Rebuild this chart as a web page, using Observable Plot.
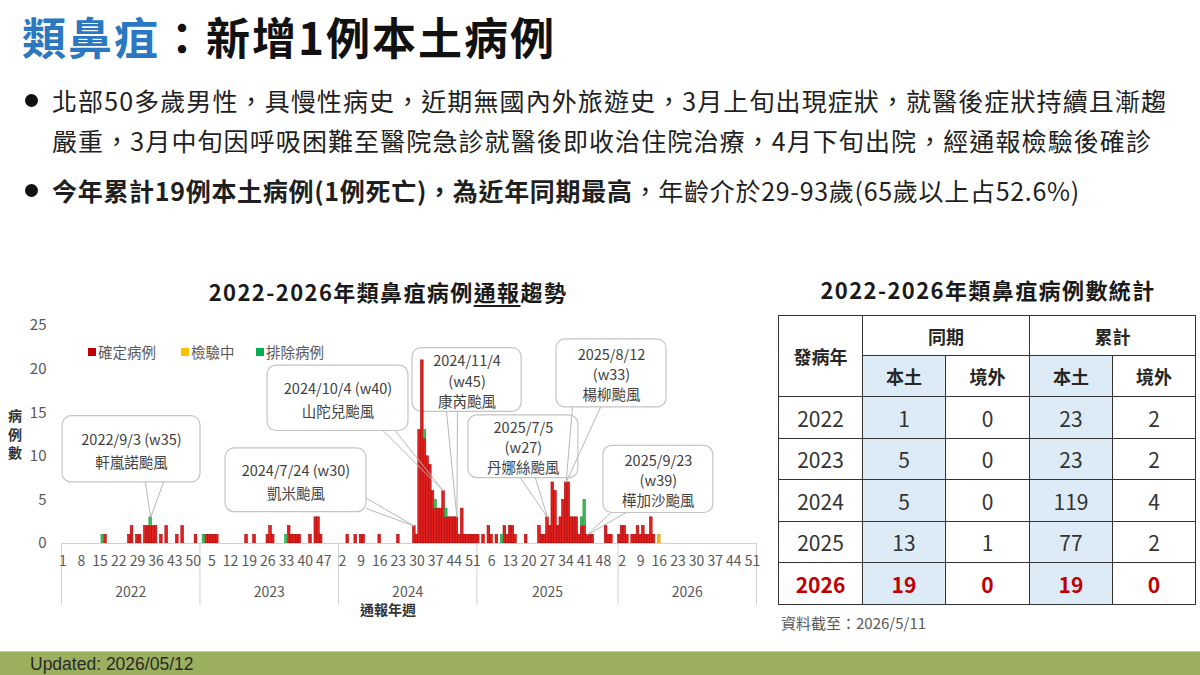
<!DOCTYPE html>
<html lang="zh-Hant">
<head>
<meta charset="utf-8">
<script src="https://cdn.jsdelivr.net/npm/d3@7"></script>
<script src="https://cdn.jsdelivr.net/npm/@observablehq/plot@0.6"></script>
<style>
  html, body { margin:0; padding:0; background:#fff; }
  body { width:1200px; height:675px; overflow:hidden; position:relative;
         font-family:"Noto Sans CJK TC","Noto Sans",sans-serif; color:#1f1f1f; }
  .abs { position:absolute; white-space:nowrap; }
  #title { left:22px; top:6px; font-size:44px; line-height:60px; font-weight:700; letter-spacing:2px; color:#111; }
  #title .blue { color:#2B78C2; }
  .bl { left:52px; font-size:25px; line-height:30px; letter-spacing:1.1px; color:#1f1f1f; }
  .dot { width:13px; height:13px; border-radius:50%; background:#111; left:25px; }
  .ctitle { font-size:22px; font-weight:700; letter-spacing:1.4px; line-height:30px; text-align:center; color:#1a1a1a; }
  .ctitle u { text-decoration-thickness:1.5px; text-underline-offset:4px; }
  #chart { left:0; top:305px; }
  .lg { font-size:14.5px; line-height:20px; color:#595959; top:342px; }
  .sw { width:8px; height:8px; top:348px; }
  #ytitle { left:5px; top:409px; writing-mode:vertical-rl; text-orientation:upright; font-size:14px; font-weight:700; letter-spacing:4.5px; color:#333; }
  #xtitle { left:0; width:776px; top:600px; text-align:center; font-size:14px; font-weight:700; line-height:18px; color:#333; }
  #tbl { left:778px; top:315px; border-collapse:collapse; table-layout:fixed; }
  #tbl td { border:1.6px solid #333; text-align:center; vertical-align:middle; padding:0; font-size:21px; color:#333; }
  #tbl td.h { font-size:18px; font-weight:700; color:#262626; }
  #tbl td.b { background:#DDEBF7; }
  #tbl tr.cur td { color:#C00000; font-weight:700; }
  #note { left:781px; top:612px; font-size:15px; line-height:22px; color:#595959; }
  #footer { left:0; top:651px; width:1200px; height:24px; background:#9BAF5F; border-top:1px solid #C3CF98; }
  #footer span { position:absolute; left:30px; top:2px; font-family:"Liberation Sans",sans-serif; font-size:17.5px; line-height:20px; color:#2a2a2a; }
</style>
</head>
<body>
<div id="title" class="abs"><span class="blue">類鼻疽</span>：新增1例本土病例</div>

<div class="abs dot" style="top:94px"></div>
<div class="abs bl" style="top:85px">北部50多歲男性，具慢性病史，近期無國內外旅遊史，3月上旬出現症狀，就醫後症狀持續且漸趨</div>
<div class="abs bl" style="top:125px">嚴重，3月中旬因呼吸困難至醫院急診就醫後即收治住院治療，4月下旬出院，經通報檢驗後確診</div>
<div class="abs dot" style="top:184px"></div>
<div class="abs bl" style="top:175px;letter-spacing:0.7px"><b>今年累計19例本土病例(1例死亡)，為近年同期最高</b>，年齡介於29-93歲(65歲以上占52.6%)</div>

<div class="abs ctitle" style="left:0;width:776px;top:276px">2022-2026年類鼻疽病例<u>通報</u>趨勢</div>
<div class="abs ctitle" style="left:778px;width:420px;top:274px">2022-2026年類鼻疽病例數統計</div>

<div id="chart" class="abs"></div>

<div class="abs sw" style="left:88px;background:#C00000"></div>
<div class="abs lg" style="left:98px">確定病例</div>
<div class="abs sw" style="left:181px;background:#FFC000"></div>
<div class="abs lg" style="left:191px">檢驗中</div>
<div class="abs sw" style="left:256px;background:#00B050"></div>
<div class="abs lg" style="left:266px">排除病例</div>

<div id="ytitle" class="abs">病例數</div>
<div id="xtitle" class="abs">通報年週</div>

<table id="tbl" class="abs"></table>
<div id="note" class="abs">資料截至：2026/5/11</div>

<div id="footer" class="abs"><span>Updated: 2026/05/12</span></div>

<script>
// ---------------- data ----------------
const years = [2022, 2023, 2024, 2025, 2026];
const weeksPerYear = [52, 52, 52, 53, 52];
const statusNames = ["確定病例", "檢驗中", "排除病例"];

// [week, cases]
const confirmed2022 = [[17,1],[26,1],[27,2],[29,1],[30,1],[32,2],[33,2],[34,2],[35,2],[36,2],[38,1],[40,2],[44,1],[46,2],[51,1]];
const confirmed2023 = [[3,1],[4,1],[5,1],[6,1],[7,1],[18,1],[21,1],[26,1],[27,2],[28,1],[34,2],[35,1],[36,1],[37,1],[38,1],[42,1],[44,3],[45,3],[46,1]];
const confirmed2024 = [[4,1],[7,1],[9,1],[10,1],[16,1],[23,1],[29,2],[30,1],[31,13],[32,21],[33,12],[34,10],[35,9],[36,6],[37,4],[38,4],[39,4],[40,6],[41,3],[42,3],[43,3],[44,3],[45,3],[46,1],[47,4],[48,1],[49,1],[50,1],[51,1],[52,1]];
const confirmed2025 = [[1,1],[3,1],[5,2],[6,1],[8,1],[11,2],[12,1],[13,2],[14,2],[15,1],[19,1],[24,2],[25,1],[26,1],[27,3],[28,2],[29,7],[30,6],[31,2],[32,3],[33,5],[34,7],[35,7],[36,3],[37,3],[38,3],[39,1],[40,2],[41,2],[42,1],[43,1],[44,1],[49,2],[50,1],[51,1]];
const confirmed2026 = [[1,1],[2,2],[3,2],[4,1],[6,1],[7,1],[8,2],[9,1],[10,2],[11,1],[12,1],[13,3],[14,1]];

const testing2022 = [];
const testing2023 = [];
const testing2024 = [];
const testing2025 = [];
const testing2026 = [[16,1]];

const excluded2022 = [[16,1],[34,1]];
const excluded2023 = [[2,1],[33,1]];
const excluded2024 = [[33,1],[37,1],[41,1]];
const excluded2025 = [[10,1],[40,1],[41,3]];
const excluded2026 = [];

const yTicks = [0, 5, 10, 15, 20, 25];
const weekTickStep = 7;

// callouts
const calloutText = [
  ["2022/9/3 (w35)", "軒嵐諾颱風"],
  ["2024/7/24 (w30)", "凱米颱風"],
  ["2024/10/4 (w40)", "山陀兒颱風"],
  ["2024/11/4", "(w45)", "康芮颱風"],
  ["2025/7/5", "(w27)", "丹娜絲颱風"],
  ["2025/8/12", "(w33)", "楊柳颱風"],
  ["2025/9/23", "(w39)", "樺加沙颱風"]
];
const calloutTarget = [[2022,34],[2024,29],[2024,40],[2024,45],[2025,27],[2025,34],[2025,42]];

// table
const tableYears = [2022, 2023, 2024, 2025, 2026];
const samePeriodLocal = [1, 5, 5, 13, 19];
const samePeriodImported = [0, 0, 0, 1, 0];
const cumulativeLocal = [23, 23, 119, 77, 19];
const cumulativeImported = [2, 2, 4, 2, 0];

// ---------------- layout (annotation boxes, in chart units) ----------------
const calloutLayout = [
  {x1:0.4,   x2:52.2,  y1:7.0,  y2:14.6, base:[[31.5,7.0],[38.3,7.0]]},
  {x1:61.6,  x2:114.5, y1:3.6,  y2:10.9, base:[[114.5,5.2],[114.5,4.0]]},
  {x1:77.4,  x2:130.3, y1:12.9, y2:20.4, base:[[120.9,12.9],[125.4,12.9]]},
  {x1:131.8, x2:172.8, y1:15.1, y2:22.4, base:[[144.6,15.1],[148.7,15.1]]},
  {x1:152.8, x2:194.1, y1:7.5,  y2:14.7, base:[[172.4,7.5],[178.0,7.5]]},
  {x1:185.9, x2:227.2, y1:15.6, y2:23.4, base:[[191.9,15.6],[202.4,15.6]]},
  {x1:203.5, x2:244.8, y1:3.5,  y2:11.2, base:[[206.2,3.5],[211.8,3.5]]}
];
const barStyle = {
  "確定病例": {fill:"#E2211F", stroke:"#A60000"},
  "檢驗中":   {fill:"#F7B515", stroke:"#D39200"},
  "排除病例": {fill:"#3DBA5B", stroke:"#22903F"}
};

// ---------------- build ----------------
const yearStart = years.map((_, i) => d3.sum(weeksPerYear.slice(0, i)));
const totalWeeks = d3.sum(weeksPerYear);
const series = {
  "確定病例": [confirmed2022, confirmed2023, confirmed2024, confirmed2025, confirmed2026],
  "檢驗中":   [testing2022, testing2023, testing2024, testing2025, testing2026],
  "排除病例": [excluded2022, excluded2023, excluded2024, excluded2025, excluded2026]
};
const totals = new Map();
const rects = [];
for (const s of statusNames) {
  series[s].forEach((list, i) => {
    for (const [wk, n] of list) {
      const g = yearStart[i] + wk - 1;
      const y1 = totals.get(g) || 0;
      const y2 = y1 + n;
      totals.set(g, y2);
      rects.push({g, y1, y2, s});
    }
  });
}
function weekOf(g) {
  let i = 0;
  while (i < years.length - 1 && g >= yearStart[i + 1]) i++;
  return g - yearStart[i] + 1;
}
const tickIdx = d3.range(0, totalWeeks, weekTickStep);
const yearBounds = [...yearStart, totalWeeks];
const yearLabels = years.map((y, i) => ({year: y, c: yearStart[i] + weeksPerYear[i] / 2}));

const callouts = calloutText.map((lines, i) => {
  const [yr, wk] = calloutTarget[i];
  const g = yearStart[years.indexOf(yr)] + wk - 1;
  return {i, lines, tipX: g + 0.5, tipY: totals.get(g) || 0, ...calloutLayout[i]};
});
const tailPts = callouts.flatMap(c => [
  {id: c.i, x: c.base[0][0], y: c.base[0][1]},
  {id: c.i, x: c.tipX, y: c.tipY},
  {id: c.i, x: c.base[1][0], y: c.base[1][1]}
]);

const chart = Plot.plot({
  width: 770,
  height: 320,
  marginLeft: 61,
  marginRight: 14,
  marginTop: 20,
  marginBottom: 82,
  x: {domain: [0, totalWeeks]},
  y: {domain: [0, 25]},
  style: {fontFamily: "'Noto Sans CJK TC','Noto Sans',sans-serif", background: "transparent", overflow: "visible"},
  marks: [
    Plot.ruleX(yearBounds, {x: d => d, y1: () => 0, y2: () => -7.1, stroke: "#d0d0d0", strokeWidth: 1}),
    Plot.rect(callouts, {x1: "x1", x2: "x2", y1: "y1", y2: "y2", fill: "white", stroke: "#c4c4c4", strokeWidth: 1.2, rx: 9, ry: 9}),
    ...statusNames.map(s => Plot.rect(rects.filter(r => r.s === s), {
      x1: "g", x2: r => r.g + 1, y1: "y1", y2: "y2",
      fill: barStyle[s].fill, stroke: barStyle[s].stroke, strokeWidth: 0.55
    })),
    Plot.ruleY([0], {stroke: "#d0d0d0", strokeWidth: 1}),
    Plot.line(tailPts, {x: "x", y: "y", z: "id", stroke: "#b8b8b8", strokeWidth: 1}),
    Plot.axisX(tickIdx.map(g => g + 0.5), {
      tickFormat: v => String(weekOf(Math.floor(v))), tickSize: 0, tickPadding: 13,
      fontSize: 14, color: "#595959", label: null
    }),
    Plot.axisY(yTicks, {tickSize: 0, tickPadding: 15, fontSize: 15, color: "#595959", label: null}),
    Plot.text(yearLabels, {x: "c", y: () => 0, dy: 49, text: d => String(d.year), fontSize: 14, fill: "#595959"}),
    Plot.text(callouts.filter(c => c.lines.length === 2), {
      x: c => (c.x1 + c.x2) / 2, y: c => (c.y1 + c.y2) / 2, text: c => c.lines.join("\n"),
      fontSize: 14.5, lineHeight: 1.58, fill: "#404040"
    }),
    Plot.text(callouts.filter(c => c.lines.length === 3), {
      x: c => (c.x1 + c.x2) / 2, y: c => (c.y1 + c.y2) / 2, text: c => c.lines.join("\n"),
      fontSize: 14.5, lineHeight: 1.4, fill: "#404040"
    })
  ]
});
document.getElementById("chart").appendChild(chart);

// ---------------- table ----------------
const colW = [84, 83, 84, 83, 83];
const rowH = [40, 41, 42, 41, 42, 41, 42];
const tbl = document.getElementById("tbl");
tbl.style.width = d3.sum(colW) + "px";
const cg = document.createElement("colgroup");
colW.forEach(w => { const c = document.createElement("col"); c.style.width = w + "px"; cg.appendChild(c); });
tbl.appendChild(cg);
let html = "";
html += `<tr style="height:${rowH[0]}px"><td class="h" rowspan="2">發病年</td><td class="h" colspan="2">同期</td><td class="h" colspan="2">累計</td></tr>`;
html += `<tr style="height:${rowH[1]}px"><td class="h b">本土</td><td class="h">境外</td><td class="h b">本土</td><td class="h">境外</td></tr>`;
tableYears.forEach((y, i) => {
  const cls = i === tableYears.length - 1 ? ' class="cur"' : "";
  html += `<tr${cls} style="height:${rowH[i + 2]}px"><td>${y}</td><td class="b">${samePeriodLocal[i]}</td><td>${samePeriodImported[i]}</td><td class="b">${cumulativeLocal[i]}</td><td>${cumulativeImported[i]}</td></tr>`;
});
tbl.insertAdjacentHTML("beforeend", html);
</script>
</body>
</html>
